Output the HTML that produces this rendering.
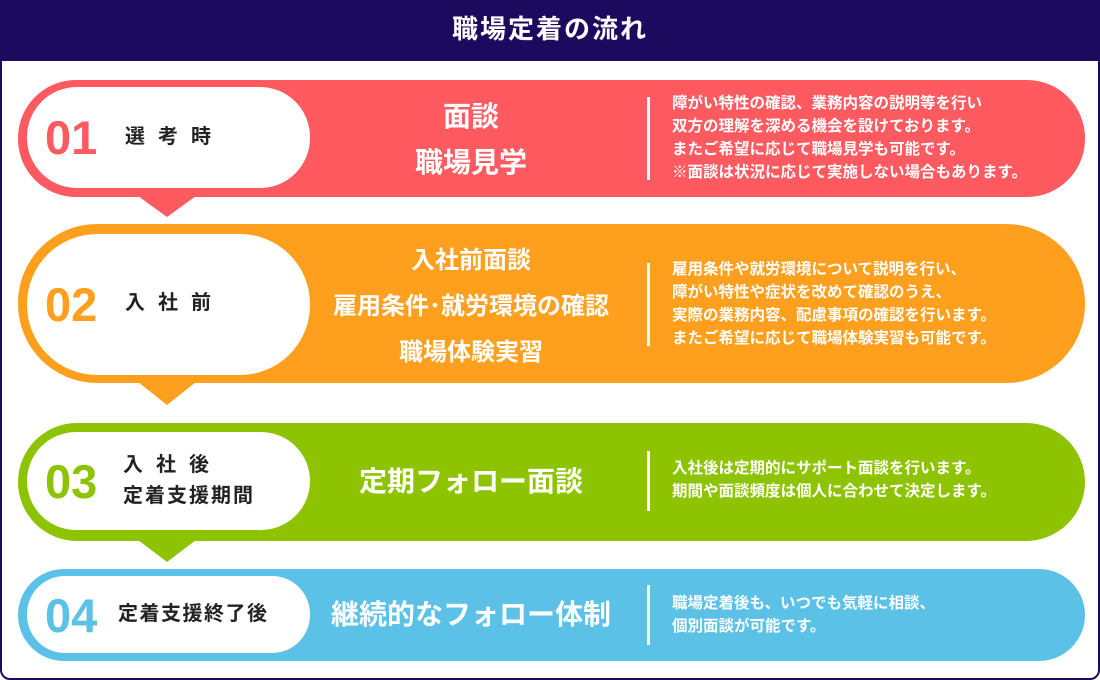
<!DOCTYPE html>
<html><head><meta charset="utf-8"><style>
*{margin:0;padding:0;box-sizing:border-box}
body{width:1100px;height:680px;background:#fff;position:relative;overflow:hidden;font-family:"Liberation Sans","Noto Sans CJK JP",sans-serif;font-weight:bold}
.frame{position:absolute;left:0;top:0;width:1100px;height:680px;border:2px solid #1c0a5e;border-radius:0 0 10px 10px}
.hdr{position:absolute;left:0;top:0;width:1100px;height:61px;background:#1c0a5e;color:#fff;font-size:26px;text-align:center;line-height:58px;letter-spacing:2px}
.bar{position:absolute;left:18px;width:1067px}
.pill{position:absolute;left:27px;width:283px;background:#fff}
.arr{position:absolute;width:0;height:0;border-left:29px solid transparent;border-right:29px solid transparent}
.num{position:absolute;font-family:"Liberation Sans",sans-serif;font-size:47px;font-weight:bold;line-height:50px}
.lab{position:absolute;color:#222;font-size:20px;letter-spacing:13px;font-weight:bold;line-height:31px}
.mid{position:absolute;left:310px;width:322px;text-align:center;color:#fff;font-size:28px;font-weight:bold}
.div{position:absolute;left:647px;width:3px;background:#fff}
.desc{position:absolute;left:672px;color:#fff;font-size:15.5px;line-height:23px;font-weight:bold;white-space:nowrap}
</style></head><body>
<div class="frame"></div>
<div class="hdr">職場定着の流れ</div>

<!-- row1 -->
<div class="bar" style="top:80px;height:117px;background:#ff5a60;border-radius:58px"></div>
<div class="arr" style="left:138px;top:196px;border-top:21px solid #ff5a60"></div>
<div class="pill" style="top:87px;height:101px;border-radius:50px"></div>
<div class="num" style="left:45px;top:113px;color:#ff5a60">01</div>
<div class="lab" style="left:125px;top:122px">選考時</div>
<div class="mid" style="top:94px;line-height:46px">面談<br>職場見学</div>
<div class="div" style="top:97px;height:83px"></div>
<div class="desc" style="top:92px">障がい特性の確認、業務内容の説明等を行い<br>双方の理解を深める機会を設けております。<br>またご希望に応じて職場見学も可能です。<br>※面談は状況に応じて実施しない場合もあります。</div>

<!-- row2 -->
<div class="bar" style="top:224px;height:159px;background:#ff9f1e;border-radius:79px"></div>
<div class="arr" style="left:138px;top:382px;border-top:23px solid #ff9f1e"></div>
<div class="pill" style="top:234px;height:141px;border-radius:70px"></div>
<div class="num" style="left:45px;top:280px;color:#ff9f1e">02</div>
<div class="lab" style="left:125px;top:288px">入社前</div>
<div class="mid" style="top:238px;line-height:46px;font-size:24px;left:292px;width:358px">入社前面談<br>雇用条件･就労環境の確認<br>職場体験実習</div>
<div class="div" style="top:263px;height:83px"></div>
<div class="desc" style="top:258px">雇用条件や就労環境について説明を行い、<br>障がい特性や症状を改めて確認のうえ、<br>実際の業務内容、配慮事項の確認を行います。<br>またご希望に応じて職場体験実習も可能です。</div>

<!-- row3 -->
<div class="bar" style="top:423px;height:118px;background:#8dc300;border-radius:59px"></div>
<div class="arr" style="left:138px;top:540px;border-top:22px solid #8dc300"></div>
<div class="pill" style="top:432px;height:98px;border-radius:49px"></div>
<div class="num" style="left:45px;top:457px;color:#8dc300">03</div>
<div class="lab" style="left:123px;top:450px">入社後<br><span style="letter-spacing:2px">定着支援期間</span></div>
<div class="mid" style="top:464px;line-height:36px">定期フォロー面談</div>
<div class="div" style="top:451px;height:60px"></div>
<div class="desc" style="top:457px">入社後は定期的にサポート面談を行います。<br>期間や面談頻度は個人に合わせて決定します。</div>

<!-- row4 -->
<div class="bar" style="top:569px;height:92px;background:#5bc1e6;border-radius:46px"></div>
<div class="pill" style="top:576px;height:77px;border-radius:38px"></div>
<div class="num" style="left:45px;top:591px;color:#5bc1e6">04</div>
<div class="lab" style="left:118px;top:599px;letter-spacing:1.5px">定着支援終了後</div>
<div class="mid" style="top:597px;line-height:36px">継続的なフォロー体制</div>
<div class="div" style="top:585px;height:60px"></div>
<div class="desc" style="top:592px">職場定着後も、いつでも気軽に相談、<br>個別面談が可能です。</div>
</body></html>
